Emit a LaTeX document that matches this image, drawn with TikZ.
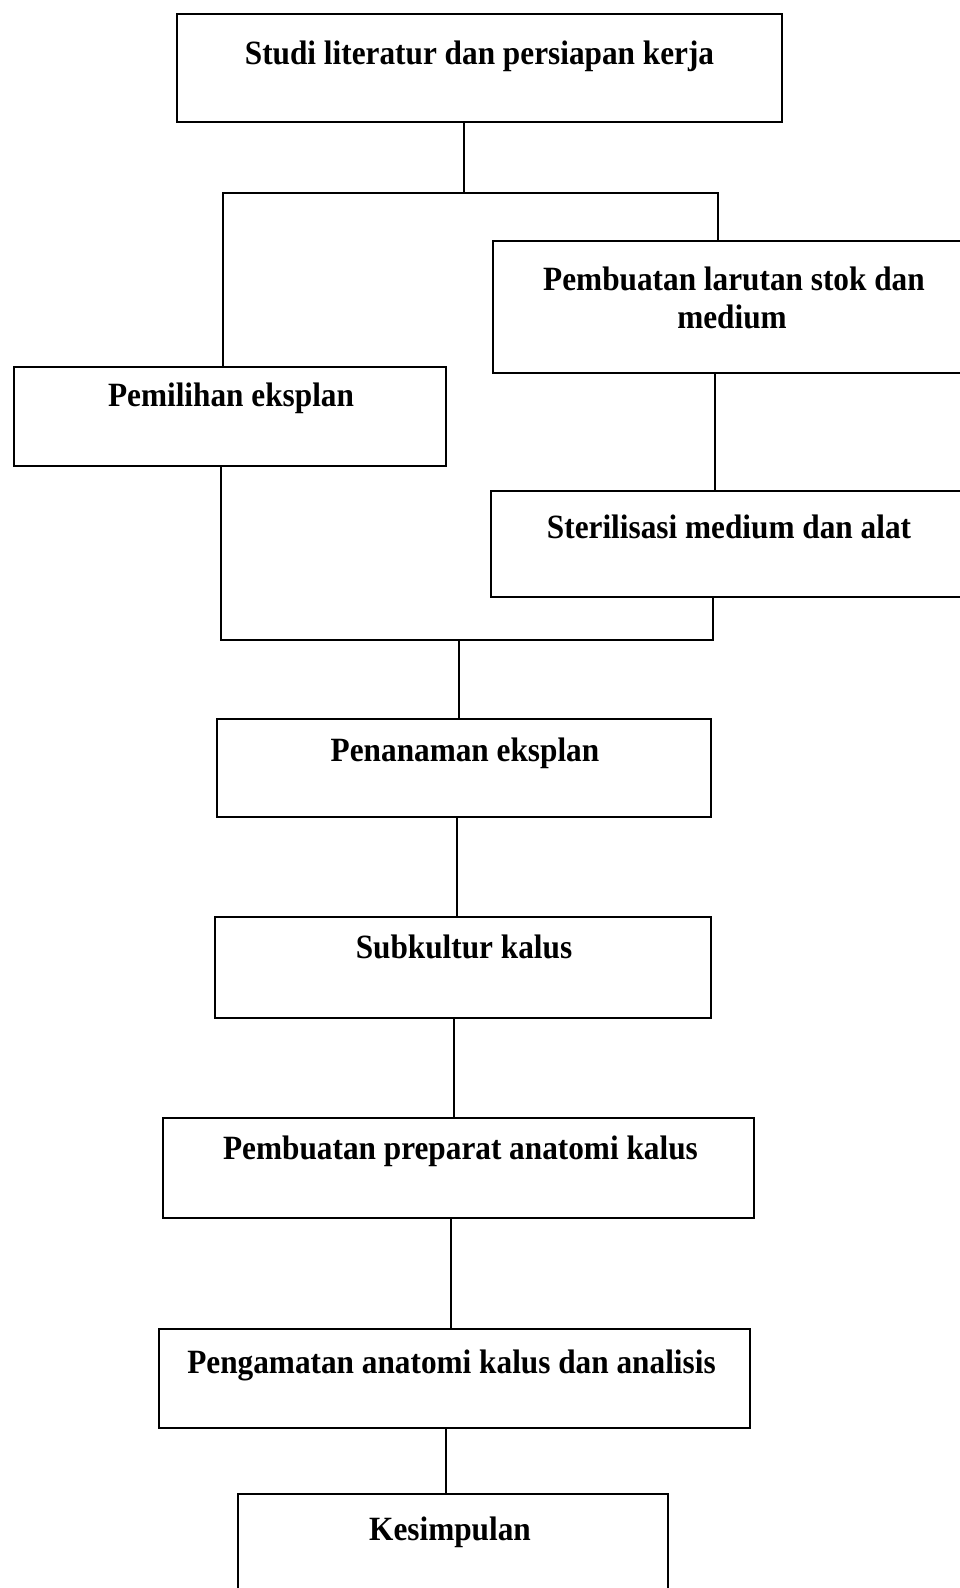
\documentclass[tikz,border=0pt]{standalone}
\usepackage{fontspec}
\setmainfont{Liberation Serif}[FakeStretch=0.92]
\usetikzlibrary{calc}
\tikzset{
  boxnode/.style={draw=black, line width=2pt, rectangle, inner sep=0pt, fill=none},
  lbl/.style={anchor=base, inner sep=0pt, align=center,
    font=\bfseries\fontsize{34}{38}\selectfont},
  conn/.style={draw=black, line width=1.6pt}
}
\begin{document}
\begin{tikzpicture}[x=1pt, y=-1pt]
\useasboundingbox (0,0) rectangle (960,1588);
\fill[white] (0,0) rectangle (960,1588);
\begin{scope}
\clip (0,0) rectangle (960,1588);
% boxes
\node[boxnode, minimum width=605, minimum height=108] (top) at (479.5,68) {};
\node[boxnode, minimum width=482, minimum height=132] (larutan) at (734,307) {};
\node[boxnode, minimum width=432, minimum height=99] (pemilihan) at (230,416.5) {};
\node[boxnode, minimum width=476, minimum height=106] (steril) at (729,544) {};
\node[boxnode, minimum width=494, minimum height=98] (penanaman) at (464,768) {};
\node[boxnode, minimum width=496, minimum height=101] (subkultur) at (463,967.5) {};
\node[boxnode, minimum width=591, minimum height=100] (preparat) at (458.5,1168) {};
\node[boxnode, minimum width=591, minimum height=99] (pengamatan) at (454.5,1378.5) {};
\node[boxnode, minimum width=430, minimum height=110] (kesimpulan) at (453,1549) {};
% texts
\node[lbl] (t1) at ($(top.north)+(0,51)$) {Studi literatur dan persiapan kerja};
\node[lbl] (t2) at ($(larutan.north)+(0,50)$) {Pembuatan larutan stok dan};
\node[lbl] (t2b) at ($(larutan.north)+(-2,88)$) {medium};
\node[lbl] (t3) at ($(pemilihan.north)+(1,40)$) {Pemilihan eksplan};
\node[lbl] (t4) at ($(steril.north)+(0,48)$) {Sterilisasi medium dan alat};
\node[lbl] (t5) at ($(penanaman.north)+(1,43)$) {Penanaman eksplan};
\node[lbl] (t6) at ($(subkultur.north)+(1,42)$) {Subkultur kalus};
\node[lbl] (t7) at ($(preparat.north)+(2,42)$) {Pembuatan preparat anatomi kalus};
\node[lbl] (t8) at ($(pengamatan.north)+(-3,45)$) {Pengamatan anatomi kalus dan analisis};
\node[lbl] (t9) at ($(kesimpulan.north)+(-3,47)$) {Kesimpulan};
% bus coordinates
\coordinate (b1L) at (223,193);
\coordinate (b1C) at (464,193);
\coordinate (b1R) at (718,193);
\coordinate (c2) at (715,0);
\coordinate (b2L) at (221,640);
\coordinate (b2C) at (459,640);
\coordinate (b2R) at (713,640);
\coordinate (c5) at (457,0);
\coordinate (c6) at (454,0);
\coordinate (c7) at (451,0);
\coordinate (c8) at (446,0);
% connectors
\draw[conn] (top.south -| b1C) -- (b1C);
\draw[conn] (pemilihan.north -| b1L) -- (b1L) -- (b1R) -- (larutan.north -| b1R);
\draw[conn] (larutan.south -| c2) -- (steril.north -| c2);
\draw[conn] (pemilihan.south -| b2L) -- (b2L) -- (b2R) -- (steril.south -| b2R);
\draw[conn] (b2C) -- (penanaman.north -| b2C);
\draw[conn] (penanaman.south -| c5) -- (subkultur.north -| c5);
\draw[conn] (subkultur.south -| c6) -- (preparat.north -| c6);
\draw[conn] (preparat.south -| c7) -- (pengamatan.north -| c7);
\draw[conn] (pengamatan.south -| c8) -- (kesimpulan.north -| c8);
\end{scope}
\end{tikzpicture}
\end{document}
